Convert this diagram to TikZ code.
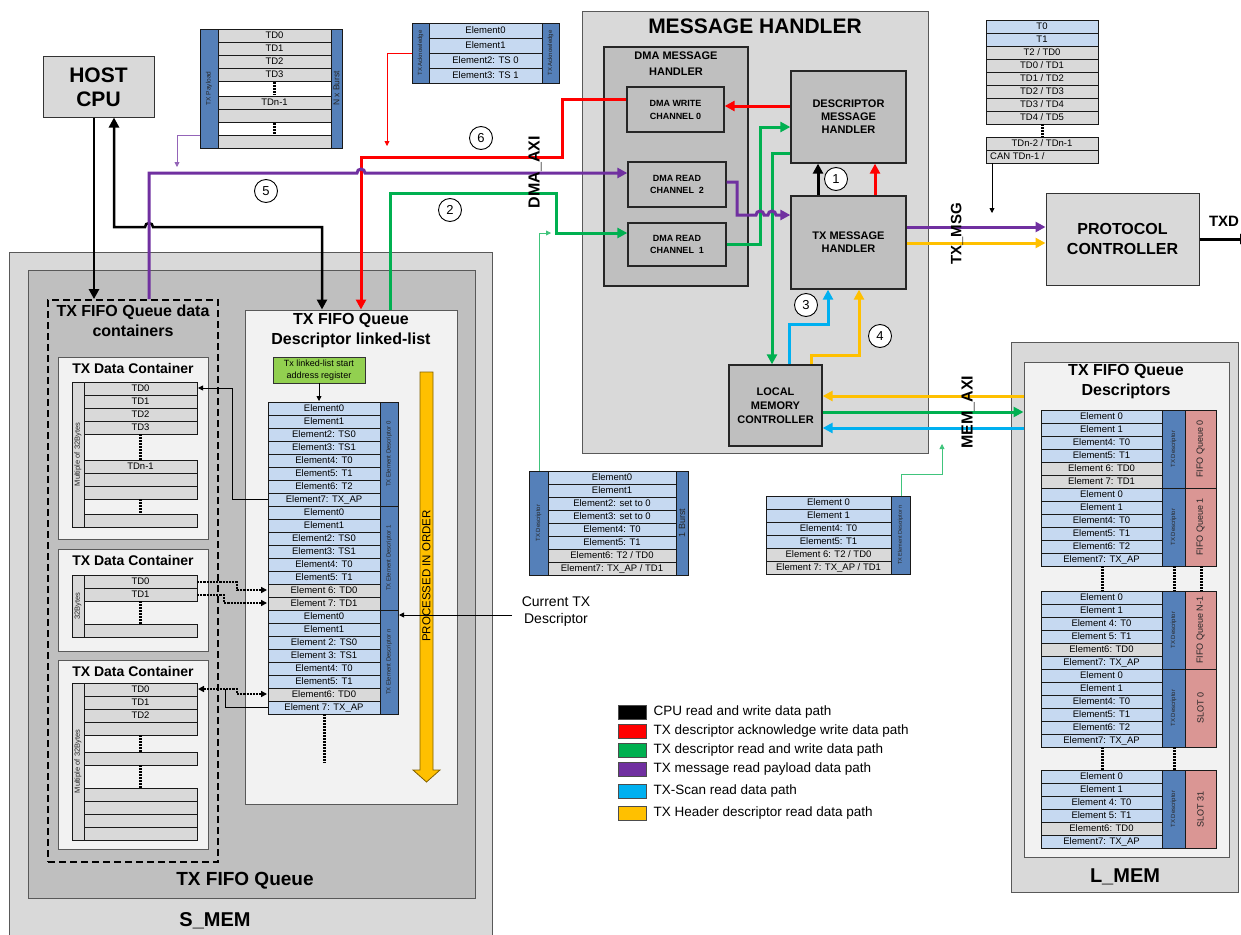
\documentclass[tikz,border=0pt]{standalone}
\usepackage{fontspec}
\setmainfont{Liberation Sans}
\usetikzlibrary{arrows.meta}
\definecolor{eb}{HTML}{C6D9F1}
\definecolor{gr}{HTML}{D9D9D9}
\definecolor{sb}{HTML}{5580B9}
\definecolor{pk}{HTML}{DA9694}
\definecolor{lgr}{HTML}{D9D9D9}
\definecolor{mgr}{HTML}{BFBFBF}
\definecolor{wgr}{HTML}{F2F2F2}
\definecolor{cgreen}{HTML}{00B050}
\definecolor{cred}{HTML}{FF0000}
\definecolor{cpurple}{HTML}{7030A0}
\definecolor{cblue}{HTML}{00B0F0}
\definecolor{cyellow}{HTML}{FFC000}
\definecolor{lgreen}{HTML}{92D050}
\definecolor{frmc}{HTML}{595959}
\newcommand\fs[2]{\fontsize{#1}{#2}\selectfont}
\newcount\myrc
\newcommand\erow[6]{\global\advance\myrc by 1\relax
  \node[rowbox,fill=#5,minimum width={((#2)-(#1))*1pt},minimum height={((#4)-(#3))*1pt}] (row\the\myrc) at ({((#1)+(#2))/2},{((#3)+(#4))/2}) {#6};}
\newcommand\tabrows[5]{\foreach \fcol/\ftxt [count=\ii from 0] in {#5} {\erow{#1}{#2}{(#3)+(#4)*\ii}{(#3)+(#4)*(\ii+1)}{\fcol}{\ftxt}}}
\newcommand\vbar[7]{\global\advance\myrc by 1\relax
  \node[barbox,fill=#1,rotate=90,minimum width={((#5)-(#4))*1pt},minimum height={((#3)-(#2))*1pt},font=#6] (bar\the\myrc) at ({((#2)+(#3))/2},{((#4)+(#5))/2}) {#7};}
\newcommand\bx[7]{\node[#6,inner sep=0pt,minimum width={((#4)-(#2))*1pt},minimum height={((#5)-(#3))*1pt}] (#1) at ({((#2)+(#4))/2},{((#3)+(#5))/2}) {#7};}
\tikzset{
 boxfr/.style={draw=frmc,line width=1pt},
 hbox/.style={draw=black!85,line width=1.3pt,fill=mgr,align=center,font=\bfseries\fs{11}{13}},
 rowbox/.style={draw=black!90,line width=0.7pt,inner sep=0pt,font=\fs{9.5}{10}},
 barbox/.style={draw=black!90,line width=0.7pt,inner sep=0pt,text=black!85},
 ttl/.style={font=\bfseries\fs{16}{20},align=center},
 ctl/.style={font=\bfseries\fs{14}{16}},
 fat/.style={line width=3pt},
 cpuln/.style={line width=2.5pt,black},
 bigtip/.style={-{Triangle[length=10pt,width=10pt]}},
 smtip/.style={-{Triangle[length=5pt,width=5pt]}},
 thn/.style={line width=0.8pt},
 dotln/.style={line width=3pt,dash pattern=on 2pt off 1pt},
 darr/.style={line width=2.2pt,dash pattern=on 2.2pt off 1pt},
 numc/.style={circle,draw=black,line width=0.9pt,fill=white,minimum size=23pt,inner sep=0pt,font=\fs{13}{13}},
}
\begin{document}
\begin{tikzpicture}[x=1pt,y=-1pt]
\useasboundingbox (0,0) rectangle (1241,934);
\fill[white] (0,0) rectangle (1241,934);

% ---------------- S_MEM ----------------
\bx{smem}{9}{252}{492}{945}{boxfr,fill=lgr}{}
\node[font=\bfseries\fs{20}{22}] (smeml) at (215,921) {S\_MEM};
\bx{fifo}{28}{270}{475}{898}{boxfr,fill=mgr}{}
\node[font=\bfseries\fs{19}{21}] (fifol) at (245,881) {TX FIFO Queue};
\bx{dc}{48}{300}{218}{862}{draw=black,line width=1.8pt,dash pattern=on 7pt off 4pt}{}
\node[ttl] (dcl) at (133,321) {TX FIFO Queue data\\containers};

% containers
\bx{c1}{58}{357}{208}{539}{boxfr,fill=wgr}{}
\node[ctl] (c1t) at (133,368) {TX Data Container};
\bx{c2}{58}{549}{208}{651}{boxfr,fill=wgr}{}
\node[ctl] (c2t) at (133,560) {TX Data Container};
\bx{c3}{58}{660}{208}{849}{boxfr,fill=wgr}{}
\node[ctl] (c3t) at (133,671) {TX Data Container};

\erow{84}{197}{382}{395}{gr}{TD0}
\erow{84}{197}{395}{408}{gr}{TD1}
\erow{84}{197}{408}{421}{gr}{TD2}
\erow{84}{197}{421}{434}{gr}{TD3}
\erow{84}{197}{460}{473}{gr}{TDn-1}
\erow{84}{197}{473}{486}{gr}{}
\erow{84}{197}{486}{499}{gr}{}
\erow{84}{197}{514}{527}{gr}{}
\vbar{gr}{72}{84}{382}{527}{\fs{7.5}{8}}{Multiple of 32Bytes}
\draw[dotln] (140.5,434) -- (140.5,460);
\draw[dotln] (140.5,499) -- (140.5,514);

\erow{84}{197}{575}{588}{gr}{TD0}
\erow{84}{197}{588}{601}{gr}{TD1}
\erow{84}{197}{624}{637}{gr}{}
\vbar{gr}{72}{84}{575}{637}{\fs{7.5}{8}}{32Bytes}
\draw[dotln] (140.5,601) -- (140.5,624);

\erow{84}{197}{683}{696}{gr}{TD0}
\erow{84}{197}{696}{709}{gr}{TD1}
\erow{84}{197}{709}{722}{gr}{TD2}
\erow{84}{197}{722}{735}{gr}{}
\erow{84}{197}{752}{765}{gr}{}
\erow{84}{197}{788}{801}{gr}{}
\erow{84}{197}{801}{814}{gr}{}
\erow{84}{197}{814}{827}{gr}{}
\erow{84}{197}{827}{840}{gr}{}
\vbar{gr}{72}{84}{683}{840}{\fs{7.5}{8}}{Multiple of 32Bytes}
\draw[dotln] (140.5,735) -- (140.5,752);
\draw[dotln] (140.5,765) -- (140.5,788);

% linked list
\bx{ll}{245}{310}{457}{804}{boxfr,fill=wgr}{}
\node[ttl] (llt) at (351,331) {TX FIFO Queue\\Descriptor linked-list};
\bx{reg}{273}{357}{365}{383}{draw=black!80,line width=0.8pt,fill=lgreen,align=center,font=\fs{9}{12}}{Tx linked-list start\\address register}
\tabrows{268}{380}{402}{13}{eb/Element0, eb/Element1, eb/{Element2: TS0}, eb/{Element3: TS1}, eb/{Element4: T0}, eb/{Element5: T1}, eb/{Element6: T2}, eb/{Element7: TX\_AP}}
\tabrows{268}{380}{506}{13}{eb/Element0, eb/Element1, eb/{Element2: TS0}, eb/{Element3: TS1}, eb/{Element4: T0}, eb/{Element5: T1}, gr/{Element 6: TD0}, gr/{Element 7: TD1}}
\tabrows{268}{380}{610}{13}{eb/Element0, eb/Element1, eb/{Element 2: TS0}, eb/{Element 3: TS1}, eb/{Element4: T0}, eb/{Element5: T1}, gr/{Element6: TD0}, eb/{Element 7: TX\_AP}}
\vbar{sb}{380}{398}{402}{506}{\fs{6}{7}}{TX Element Descriptor 0}
\vbar{sb}{380}{398}{506}{610}{\fs{6}{7}}{TX Element Descriptor 1}
\vbar{sb}{380}{398}{610}{714}{\fs{6}{7}}{TX Element Descriptor n}
\draw[dotln] (324,714) -- (324,763);
\draw[smtip,thn] (reg.south) -- (319,401);
\draw[draw=black!50!cyellow,line width=0.8pt,fill=cyellow] (420,372) -- (433,372) -- (433,770) -- (440,770) -- (426.5,782) -- (413,770) -- (420,770) -- cycle;
\node[rotate=90,font=\fs{11.5}{12}] (proc) at (426.5,576) {PROCESSED IN ORDER};

\draw[thn,smtip] (268,499) -- (232,499) -- (232,388) -- (198,388);
\draw[darr,-{Triangle[length=6pt,width=6pt]}] (197,582) -- (237,582) -- (237,590) -- (267,590);
\draw[darr,-{Triangle[length=6pt,width=6pt]}] (197,595) -- (224,595) -- (224,603) -- (267,603);
\draw[thn] (268,707) -- (225,707) -- (225,689);
\draw[darr,{Triangle[length=6pt,width=6pt]}-{Triangle[length=6pt,width=6pt]}] (198,689) -- (237,689) -- (237,694) -- (267,694);

\node[align=center,font=\fs{14}{17}] (curtx) at (556,612) {Current TX\\Descriptor};
\draw[thn,smtip] (512,615) -- (399,615);

% ---------------- HOST CPU & top tables ----------------
\bx{cpu}{43}{57}{154}{117}{draw=black!80,line width=1pt,fill=lgr,align=center,font=\bfseries\fs{21}{24}}{HOST\\CPU}

\erow{218}{331}{29}{42}{gr}{TD0}
\erow{218}{331}{42}{55}{gr}{TD1}
\erow{218}{331}{55}{68}{gr}{TD2}
\erow{218}{331}{68}{81}{gr}{TD3}
\erow{218}{331}{81}{96}{white}{}
\erow{218}{331}{96}{109}{gr}{TDn-1}
\erow{218}{331}{109}{122}{gr}{}
\erow{218}{331}{122}{135}{white}{}
\erow{218}{331}{135}{148}{gr}{}
\vbar{sb}{200}{218}{29}{148}{\fs{6.5}{7}}{TX Payload}
\vbar{sb}{331}{342}{29}{148}{\fs{8.5}{9}}{N x Burst}
\draw[dotln] (274.5,82) -- (274.5,95);
\draw[dotln] (274.5,123) -- (274.5,134);

\tabrows{429}{542}{23}{15}{eb/Element0, eb/Element1, eb/{Element2: TS 0}, eb/{Element3: TS 1}}
\vbar{sb}{412}{429}{23}{83}{\fs{6}{7}}{TX Acknowledge}
\vbar{sb}{542}{559}{23}{83}{\fs{6}{7}}{TX Acknowledge}

\tabrows{986}{1098}{20}{13}{eb/T0, eb/T1, gr/{T2 / TD0}, gr/{TD0 / TD1}, gr/{TD1 / TD2}, gr/{TD2 / TD3}, gr/{TD3 / TD4}, gr/{TD4 / TD5}}
\erow{986}{1098}{137}{150}{gr}{TDn-2 / TDn-1}
\erow{986}{1098}{150}{163}{gr}{}
\node[anchor=west,font=\fs{9.5}{10},inner sep=0pt] (cantd) at (990,156.5) {CAN TDn-1 /};
\draw[dotln] (1042,124) -- (1042,137);
\draw[thn,smtip] (992,163) -- (992,213);

% ---------------- MESSAGE HANDLER ----------------
\bx{mh}{582}{12}{928}{453}{boxfr,fill=lgr}{}
\node[font=\bfseries\fs{21}{24}] (mht) at (755,26) {MESSAGE HANDLER};
\bx{dma}{604}{47}{748}{286}{draw=black!85,line width=1.3pt,fill=mgr}{}
\node[font=\bfseries\fs{11}{16},align=center] (dmat) at (676,64) {DMA MESSAGE\\HANDLER};
\bx{w0}{627}{87}{724}{132}{hbox,font=\bfseries\fs{9}{13}}{DMA WRITE\\CHANNEL 0}
\bx{r2}{628}{162}{726}{207}{hbox,font=\bfseries\fs{9}{12}}{DMA READ\\CHANNEL \ 2}
\bx{r1}{628}{223}{726}{266}{hbox,font=\bfseries\fs{9}{12}}{DMA READ\\CHANNEL \ 1}
\bx{dmh}{791}{71}{906}{163}{hbox}{DESCRIPTOR\\MESSAGE\\HANDLER}
\bx{txmh}{791}{196}{906}{289}{hbox}{TX MESSAGE\\HANDLER}
\bx{lmc}{729}{365}{822}{446}{hbox,font=\bfseries\fs{11}{14}}{LOCAL\\MEMORY\\CONTROLLER}

% ---------------- PROTOCOL CONTROLLER ----------------
\bx{pc}{1046}{193}{1199}{285}{draw=black!80,line width=1pt,fill=lgr,align=center,font=\bfseries\fs{16}{20}}{PROTOCOL\\CONTROLLER}
\node[font=\bfseries\fs{15}{16}] (txd) at (1224,221) {TXD};

% ---------------- middle tables ----------------
\tabrows{548}{676}{471}{13}{eb/Element0, eb/Element1, eb/{Element2: set to 0}, eb/{Element3: set to 0}, eb/{Element4: T0}, eb/{Element5: T1}, gr/{Element6: T2 / TD0}, gr/{Element7: TX\_AP / TD1}}
\vbar{sb}{529}{548}{471}{575}{\fs{6}{7}}{TX Descriptor}
\vbar{sb}{676}{688}{471}{575}{\fs{9}{10}}{1 Burst}
\tabrows{766}{891}{496}{13}{eb/{Element 0}, eb/{Element 1}, eb/{Element4: T0}, eb/{Element5: T1}, gr/{Element 6: T2 / TD0}, gr/{Element 7: TX\_AP / TD1}}
\vbar{sb}{891}{910}{496}{574}{\fs{5.5}{6}}{TX Element Descriptor n}
\draw[thn,cgreen!75,smtip] (901,496) -- (901,474) -- (942,474) -- (942,444);
\draw[thn,cgreen!75,smtip] (539,471) -- (539,233) -- (551,233);

% ---------------- L_MEM ----------------
\bx{lmem}{1011}{342}{1238}{892}{boxfr,fill=lgr}{}
\node[font=\bfseries\fs{20}{22}] (lmeml) at (1125,877) {L\_MEM};
\bx{lmi}{1024}{362}{1229}{857}{boxfr,fill=wgr}{}
\node[ttl] (lmit) at (1126,382) {TX FIFO Queue\\Descriptors};
\tabrows{1041}{1162}{410}{13}{eb/{Element 0}, eb/{Element 1}, eb/{Element4: T0}, eb/{Element5: T1}, gr/{Element 6: TD0}, gr/{Element 7: TD1}}
\tabrows{1041}{1162}{488}{13}{eb/{Element 0}, eb/{Element 1}, eb/{Element4: T0}, eb/{Element5: T1}, eb/{Element6: T2}, eb/{Element7: TX\_AP}}
\tabrows{1041}{1162}{591}{13}{eb/{Element 0}, eb/{Element 1}, eb/{Element 4: T0}, eb/{Element 5: T1}, gr/{Element6: TD0}, eb/{Element7: TX\_AP}}
\tabrows{1041}{1162}{669}{13}{eb/{Element 0}, eb/{Element 1}, eb/{Element4: T0}, eb/{Element5: T1}, eb/{Element6: T2}, eb/{Element7: TX\_AP}}
\tabrows{1041}{1162}{770}{13}{eb/{Element 0}, eb/{Element 1}, eb/{Element 4: T0}, eb/{Element 5: T1}, gr/{Element6: TD0}, eb/{Element7: TX\_AP}}
\vbar{sb}{1162}{1185}{410}{488}{\fs{6}{7}}{TX Descriptor}
\vbar{sb}{1162}{1185}{488}{566}{\fs{6}{7}}{TX Descriptor}
\vbar{sb}{1162}{1185}{591}{669}{\fs{6}{7}}{TX Descriptor}
\vbar{sb}{1162}{1185}{669}{747}{\fs{6}{7}}{TX Descriptor}
\vbar{sb}{1162}{1185}{770}{848}{\fs{6}{7}}{TX Descriptor}
\vbar{pk}{1185}{1216}{410}{488}{\fs{9}{10}}{FIFO Queue 0}
\vbar{pk}{1185}{1216}{488}{566}{\fs{9}{10}}{FIFO Queue 1}
\vbar{pk}{1185}{1216}{591}{669}{\fs{9}{10}}{FIFO Queue N-1}
\vbar{pk}{1185}{1216}{669}{747}{\fs{9}{10}}{SLOT 0}
\vbar{pk}{1185}{1216}{770}{848}{\fs{9}{10}}{SLOT 31}
\draw[dotln] (1102,566) -- (1102,591);
\draw[dotln] (1174,566) -- (1174,591);
\draw[dotln] (1201,566) -- (1201,591);
\draw[dotln] (1102,747) -- (1102,770);
\draw[dotln] (1174,747) -- (1174,770);

% ---------------- connectors ----------------
\draw[cpuln,bigtip] (94,0 |- cpu.south) -- (94,0 |- dc.north);
\draw[cpuln,{Triangle[length=10pt,width=10pt]}-{Triangle[length=10pt,width=10pt]}] (114,0 |- cpu.south) -- (114,227) -- (145,227) arc[start angle=180,end angle=0,radius=4pt] -- (322,227) -- (322,0 |- ll.north);
\draw[thn,cpurple!75,smtip] (200,135) -- (177,135) -- (177,167);
\draw[thn,cred,smtip] (412,53) -- (387,53) -- (387,146);
\draw[fat,cred,bigtip] (w0.west |- 0,99) -- (562,99) -- (562,157) -- (361,157) -- (361,0 |- ll.north);
\draw[fat,cpurple,bigtip] (149,0 |- dc.north) -- (149,173) -- (357,173) arc[start angle=180,end angle=0,radius=4pt] -- (r2.west |- 0,173);
\draw[fat,cgreen,bigtip] (390,0 |- ll.north) -- (390,193) -- (556,193) -- (556,233) -- (r1.west |- 0,233);

\draw[fat,cred,bigtip] (dmh.west |- 0,106) -- (w0.east |- 0,106);
\draw[fat,cgreen,bigtip] (r1.east |- 0,244) -- (760,244) -- (760,127) -- (dmh.west |- 0,127);
\draw[fat,cgreen,bigtip] (dmh.west |- 0,153) -- (772,153) -- (772,0 |- lmc.north);
\draw[fat,cpurple,bigtip] (r2.east |- 0,182) -- (737,182) -- (737,215) -- (756,215) arc[start angle=180,end angle=0,radius=4pt] -- (768,215) arc[start angle=180,end angle=0,radius=4pt] -- (txmh.west |- 0,215);
\draw[fat,black,bigtip] (818,0 |- txmh.north) -- (818,0 |- dmh.south);
\draw[fat,cred,bigtip] (875,0 |- txmh.north) -- (875,0 |- dmh.south);
\draw[fat,cblue,bigtip] (789,0 |- lmc.north) -- (789,324) -- (828,324) -- (828,0 |- txmh.south);
\draw[fat,cyellow,bigtip] (811,0 |- lmc.north) -- (811,355) -- (859,355) -- (859,0 |- txmh.south);
\draw[fat,cpurple,bigtip] (txmh.east |- 0,227) -- (pc.west |- 0,227);
\draw[fat,cyellow,bigtip] (txmh.east |- 0,243) -- (pc.west |- 0,243);
\draw[fat,cyellow,bigtip] (lmi.west |- 0,396) -- (lmc.east |- 0,396);
\draw[fat,cgreen,bigtip] (lmc.east |- 0,412) -- (lmi.west |- 0,412);
\draw[fat,cblue,bigtip] (lmi.west |- 0,428) -- (lmc.east |- 0,428);
\draw[fat,black,bigtip] (pc.east |- 0,239) -- (1250,239);

% labels
\node[rotate=90,font=\bfseries\fs{16}{17}] (dmaaxi) at (535,172) {DMA\_AXI};
\node[rotate=90,font=\bfseries\fs{15}{16}] (txmsg) at (957,234) {TX\_MSG};
\node[rotate=90,font=\bfseries\fs{16}{17}] (memaxi) at (968,412) {MEM\_AXI};

\node[numc] (n1) at (836,179) {1};
\node[numc] (n2) at (450,210) {2};
\node[numc] (n3) at (806,305) {3};
\node[numc] (n4) at (880,336) {4};
\node[numc] (n5) at (266,191) {5};
\node[numc] (n6) at (481,138) {6};

% legend
\foreach \yy/\col/\txt [count=\k] in {712/black/{CPU read and write data path}, 731/cred/{TX descriptor acknowledge write data path}, 750/cgreen/{TX descriptor read and write data path}, 769/cpurple/{TX message read payload data path}, 791/cblue/{TX-Scan read data path}, 813/cyellow/{TX Header descriptor read data path}}{
  \node[draw=black!70,line width=0.6pt,fill=\col,minimum width=28pt,minimum height=14pt,inner sep=0pt] (sw\k) at (632,\yy) {};
  \node[anchor=west,font=\fs{13.5}{14}] (lt\k) at (650,\yy) {\txt};
}
\end{tikzpicture}
\end{document}
